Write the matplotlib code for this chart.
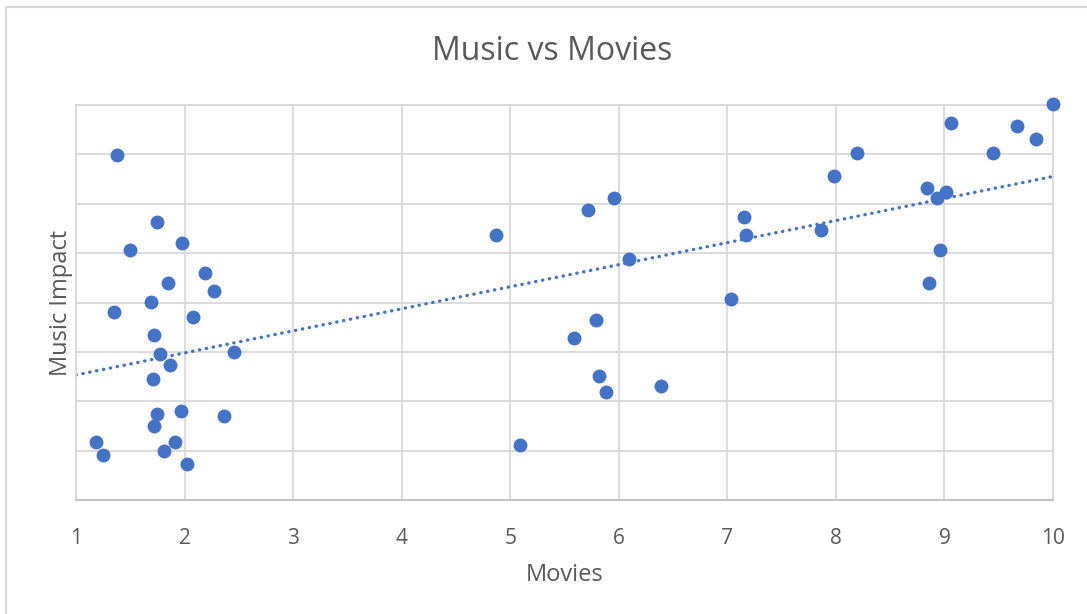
import numpy as np
import matplotlib
matplotlib.use("Agg")
import matplotlib.pyplot as plt
from matplotlib.lines import Line2D

### data
movies = [1.18, 1.25, 1.38, 1.35, 1.50, 1.69, 1.75, 1.72, 1.77, 1.71,
          1.87, 1.85, 1.75, 1.72, 1.81, 1.91, 1.97, 2.02, 1.98, 2.08,
          2.19, 2.27, 2.46, 2.36, 4.87, 5.09, 5.59, 5.72, 5.79, 5.82,
          5.88, 5.96, 6.09, 6.39, 7.03, 7.15, 7.17, 7.86, 7.98, 8.19,
          8.84, 8.86, 8.93, 8.96, 9.01, 9.06, 9.45, 9.67, 9.84, 10.0]
music = [1.17, 0.91, 6.98, 3.81, 5.06, 4.01, 5.63, 3.34, 2.96, 2.45,
         2.73, 4.39, 1.74, 1.50, 0.99, 1.17, 1.80, 0.73, 5.20, 3.70,
         4.60, 4.23, 3.00, 1.70, 5.36, 1.11, 3.28, 5.87, 3.64, 2.51,
         2.19, 6.11, 4.88, 2.31, 4.07, 5.73, 5.36, 5.47, 6.56, 7.02,
         6.32, 4.39, 6.11, 5.06, 6.23, 7.63, 7.02, 7.57, 7.31, 8.02]

title = "Music vs Movies"
xlabel = "Movies"
ylabel = "Music Impact"

blue = "#4472C4"
grid = "#D9D9D9"
txt = "#595959"
plt.rcParams['font.family'] = ['Open Sans', 'DejaVu Sans']

fig = plt.figure(figsize=(10.87, 6.14), dpi=100)
ax = fig.add_axes([76/1087, 1-500/614, (1053-76)/1087, (500-105)/614])

ax.scatter(movies, music, s=100, color=blue, zorder=3, linewidths=0, clip_on=False)

# linear trendline
slope, icpt = np.polyfit(movies, music, 1)
tx = np.array([1, 10])
ax.plot(tx, slope*tx + icpt, color=blue, lw=2.4, linestyle=(0, (0.1, 2.0)),
        dash_capstyle='round', zorder=2)

ax.set_xlim(1, 10)
ax.set_ylim(0, 8)
ax.set_xticks(range(1, 11))
ax.set_yticks(range(0, 9))
ax.set_yticklabels([])
ax.grid(True, color=grid, lw=1.3, zorder=0)
ax.tick_params(axis='both', length=0, colors=txt)
ax.tick_params(axis='x', labelsize=15, pad=20)
for s in ax.spines.values():
    s.set_color(grid)
    s.set_linewidth(1.3)
ax.spines['bottom'].set_color("#BFBFBF")

ax.set_xlabel(xlabel, fontsize=17, color=txt, labelpad=10)
ax.set_ylabel(ylabel, fontsize=17, color=txt, labelpad=-1)
fig.text(0.508, 1-51/614, title, ha='center', va='center', fontsize=23, color=txt)

# chart-area border
fig.add_artist(Line2D([6/1087, 6/1087], [0, 1-7/614], color=grid, lw=1.5,
                      transform=fig.transFigure))
fig.add_artist(Line2D([6/1087, 1], [1-7/614, 1-7/614], color=grid, lw=1.5,
                      transform=fig.transFigure))

fig.savefig("out.png", dpi=100)
